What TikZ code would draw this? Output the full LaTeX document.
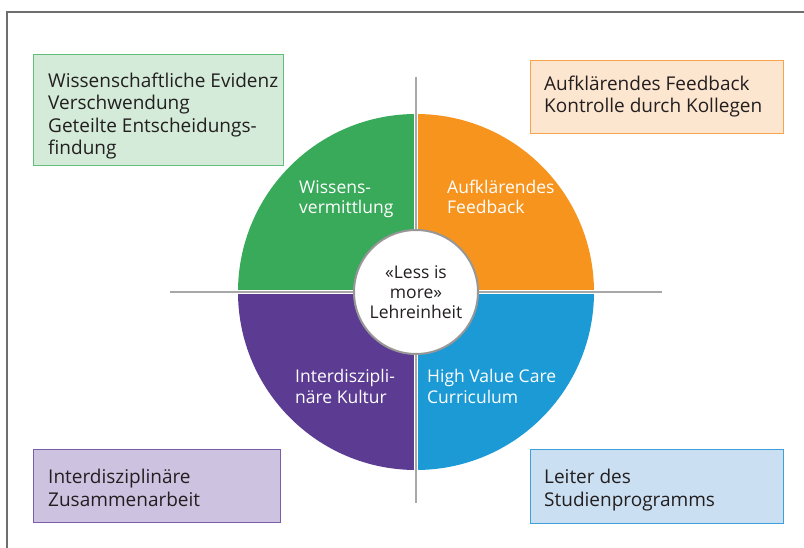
\documentclass[tikz,border=0pt]{standalone}
\usepackage{fontspec}
\setmainfont{Open Sans}
\begin{document}
\definecolor{qgreen}{HTML}{39AA5A}
\definecolor{qorange}{HTML}{F7941E}
\definecolor{qpurple}{HTML}{5C3B93}
\definecolor{qblue}{HTML}{1B9AD6}
\definecolor{bgreen}{HTML}{D3EBD8}
\definecolor{lgreen}{HTML}{63BE7B}
\definecolor{borange}{HTML}{FDE6CF}
\definecolor{lorange}{HTML}{F8A44C}
\definecolor{bpurple}{HTML}{CDC3E1}
\definecolor{lpurple}{HTML}{7B5DAA}
\definecolor{bblue}{HTML}{CADFF1}
\definecolor{lblue}{HTML}{3EA0D8}
\definecolor{ink}{HTML}{231F20}
\definecolor{crossgray}{HTML}{A8A8A8}
\definecolor{framegray}{HTML}{6E6E6E}
\begin{tikzpicture}[x=1pt,y=-1pt,
  panel/.style={rectangle, line width=1.2pt, inner sep=0pt, anchor=north west},
  % multi-line labels are anchored at the baseline of their last line
  paneltext/.style={anchor=base west, align=left, inner sep=0pt, text=ink,
    font=\fontsize{19}{22.5}\selectfont},
  quadtext/.style={anchor=base west, align=left, inner sep=0pt, text=white,
    font=\fontsize{17.5}{20.5}\selectfont},
  crossline/.style={draw=crossgray, line width=1.8pt},
  gapline/.style={draw=white, line width=4pt}]
\useasboundingbox (0,0) rectangle (804,548);

% outer frame (left and top edges)
\coordinate (fbl) at (7,548);
\coordinate (ftl) at (7,12);
\coordinate (ftr) at (804,12);
\draw[framegray, line width=1.2pt] (fbl) -- (ftl) -- (ftr);

% centre of the wheel
\coordinate (c) at (416,292);
\def\wheelr{178pt}

% four quadrants
\fill[qgreen]  (c) -- ++(180:\wheelr) arc[start angle=180, end angle=90,  radius=\wheelr] -- cycle;
\fill[qorange] (c) -- ++(90:\wheelr)  arc[start angle=90,  end angle=0,   radius=\wheelr] -- cycle;
\fill[qblue]   (c) -- ++(0:\wheelr)   arc[start angle=360, end angle=270, radius=\wheelr] -- cycle;
\fill[qpurple] (c) -- ++(270:\wheelr) arc[start angle=270, end angle=180, radius=\wheelr] -- cycle;

% separating cross
\coordinate (vt) at (416,77);
\coordinate (vb) at (416,503);
\coordinate (hl) at (170,292);
\coordinate (hr) at (662,292);
\coordinate (gt) at (416,112);
\coordinate (gb) at (416,472);
\coordinate (gl) at (236,292);
\coordinate (gr) at (596,292);
\draw[gapline] (gt) -- (gb);
\draw[gapline] (gl) -- (gr);
\draw[crossline] (vt) -- (vb);
\draw[crossline] (hl) -- (hr);

% hub
\node[circle, fill=white, draw=crossgray!90!black, line width=2pt,
      minimum size=124pt, inner sep=0pt, align=center, text=ink,
      font=\fontsize{17.5}{20}\selectfont] (hub) at (c)
      {«Less is\\more»\\Lehreinheit};

% quadrant labels
\node[quadtext] (qg) at (299,214) {Wissens-\\vermittlung};
\node[quadtext] (qo) at (447,214) {Aufklärendes\\Feedback};
\node[quadtext] (qp) at (295,403) {Interdiszipli-\\näre Kultur};
\node[quadtext] (qb) at (427,403) {High Value Care\\Curriculum};

% corner panels
\node[panel, fill=bgreen, draw=lgreen, minimum width=250pt, minimum height=111pt] (pg) at (33,54) {};
\node[paneltext] (tg) at (48,155) {Wissenschaftliche Evidenz\\Verschwendung\\Geteilte Entscheidungs-\\findung};

\node[panel, fill=borange, draw=lorange, minimum width=253pt, minimum height=73pt] (po) at (530,60) {};
\node[paneltext] (to) at (544,113) {Aufklärendes Feedback\\Kontrolle durch Kollegen};

\node[panel, fill=bpurple, draw=lpurple, minimum width=247pt, minimum height=73pt] (pp) at (33,449) {};
\node[paneltext] (tp) at (48,506) {Interdisziplinäre\\Zusammenarbeit};

\node[panel, fill=bblue, draw=lblue, minimum width=253pt, minimum height=74pt] (pb) at (530,449) {};
\node[paneltext] (tb) at (544,506) {Leiter des\\Studienprogramms};
\end{tikzpicture}
\end{document}
